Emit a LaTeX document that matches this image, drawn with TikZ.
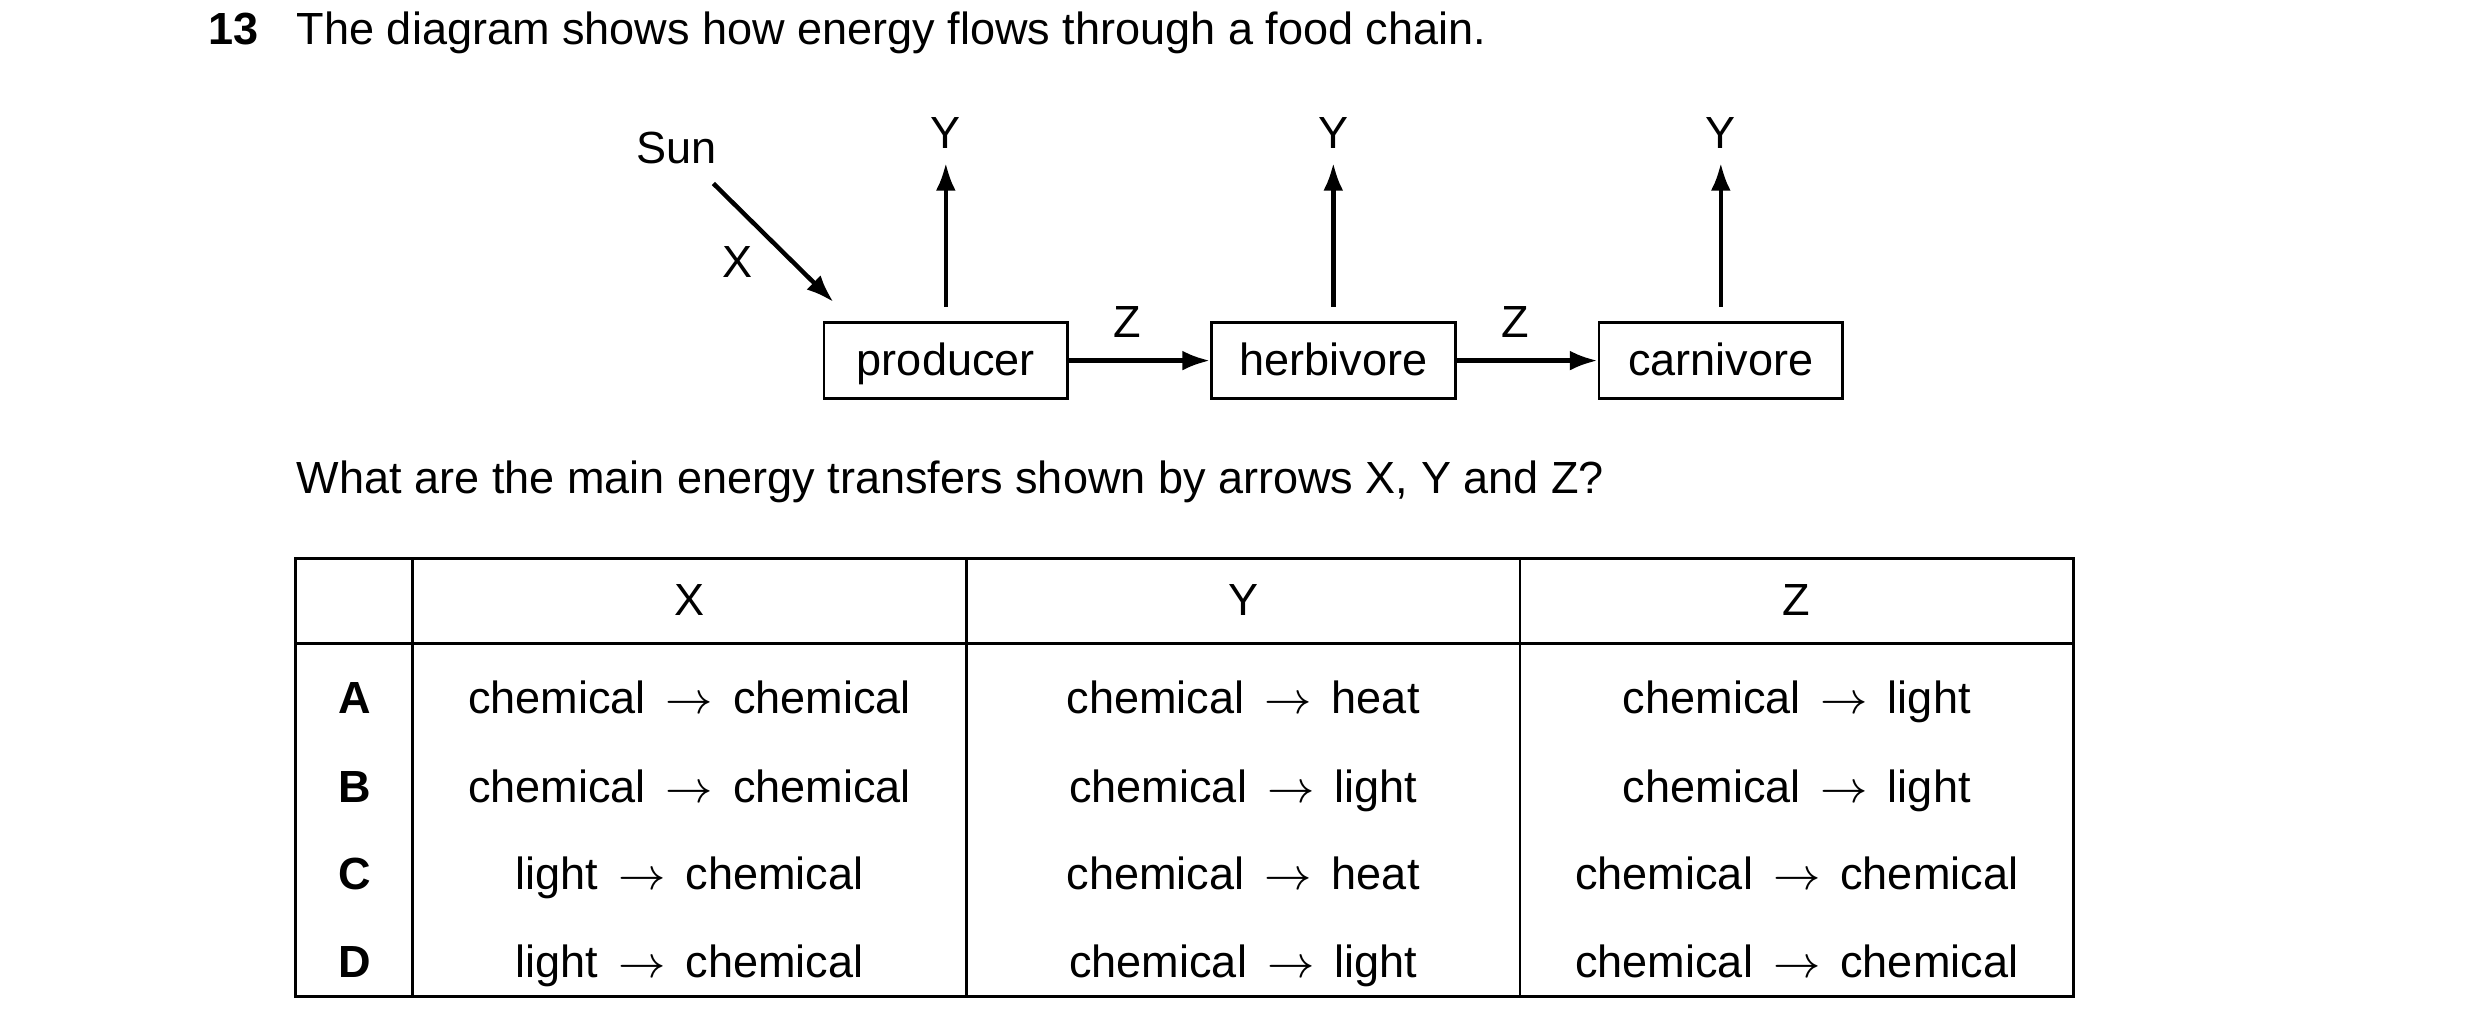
\documentclass[tikz,border=0pt]{standalone}
\usepackage{fontspec}
\setmainfont{Liberation Sans}
\usetikzlibrary{arrows.meta}
\begin{document}
\begin{tikzpicture}[x=0.01cm,y=-0.01cm,
  every node/.style={font=\fontsize{8.1}{10}\selectfont,inner sep=0pt,text height=0.72em,text depth=0.2em},
  box/.style={draw,line width=0.5pt,minimum width=1.54cm,minimum height=0.48cm},
  arr/.style={line width=0.8pt,-{Latex[length=5pt,width=3.6pt]}},
  tl/.style={line width=0.5pt}]
\useasboundingbox (0,0) rectangle (1568,655);
\node[anchor=west,font=\fontsize{8.1}{10}\selectfont\bfseries] (num) at (131,19) {13};
\node[anchor=west] (title) at (187,19) {The diagram shows how energy flows through a food chain.};
\node (sun) at (428,94) {Sun};
\node (xl) at (466,166) {X};
\node[box] (p) at (598,228) {producer};
\node[box] (h) at (843,228) {herbivore};
\node[box] (c) at (1088,228) {carnivore};
\coordinate (s1) at (451,116);
\coordinate (s2) at (527,191);
\draw[arr] (s1) -- (s2);
\foreach \n/\x in {p/598,h/843,c/1088}{
  \node (y\n) at (\x,85) {Y};
  \coordinate (b\n) at (\x,194);
  \coordinate (t\n) at (\x,103);
  \draw[arr] (b\n) -- (t\n);
}
\draw[arr] (p.east) -- (h.west);
\draw[arr] (h.east) -- (c.west);
\node (z1) at (713,204) {Z};
\node (z2) at (958,204) {Z};
\node[anchor=west] (q) at (187,303) {What are the main energy transfers shown by arrows X, Y and Z?};
% table
\draw[tl] (187,353) rectangle (1311,630);
\draw[tl] (187,407) -- (1311,407);
\foreach \x in {261,611,961}{\draw[tl] (\x,353) -- (\x,630);}
\node (hx) at (436,380) {X};
\node (hy) at (786,380) {Y};
\node (hz) at (1136,380) {Z};
\def\ar{\ \,$\rightarrow$\ \,}
\foreach \l/\y/\a/\b/\c in {
 A/442/chemical\ar chemical/chemical\ar heat/chemical\ar light,
 B/498/chemical\ar chemical/chemical\ar light/chemical\ar light,
 C/553/light\ar chemical/chemical\ar heat/chemical\ar chemical,
 D/609/light\ar chemical/chemical\ar light/chemical\ar chemical}{
  \node[font=\fontsize{8.1}{10}\selectfont\bfseries] (r\l) at (224,\y) {\l};
  \node (x\l) at (436,\y) {\a};
  \node (y\l) at (786,\y) {\b};
  \node (z\l) at (1136,\y) {\c};
}
\end{tikzpicture}
\end{document}
